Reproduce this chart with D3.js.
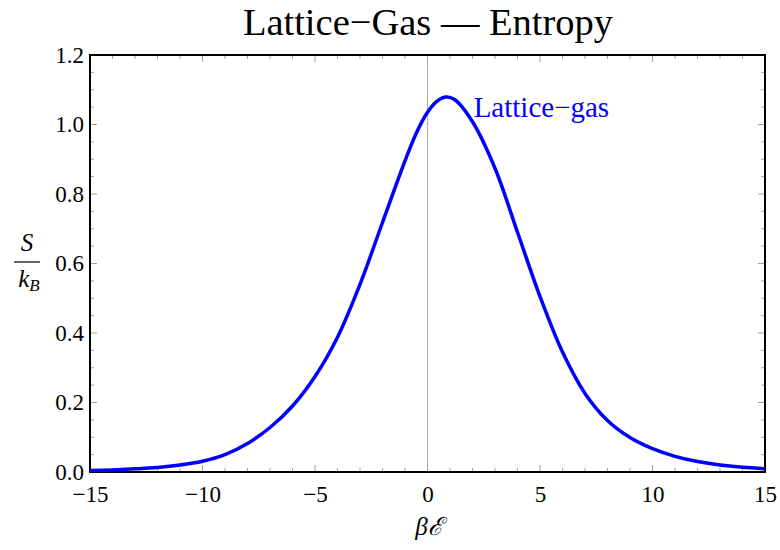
<!DOCTYPE html>
<html>
<head>
<meta charset="utf-8">
<script src="https://cdn.jsdelivr.net/npm/d3@7"></script>
<style>
  body { margin: 0; background: #fff; }
  svg text { font-family: "Liberation Serif", "Times New Roman", serif; }
</style>
</head>
<body>
<svg id="chart" width="780" height="550"></svg>
<script>
// values
let betaE = [-15, -14, -13, -12, -11, -10, -9, -8, -7, -6, -5, -4, -3, -2, -1, -0.5, 0, 0.4, 0.8, 1.2, 2, 3, 4, 5, 6, 7, 8, 9, 10, 11, 12, 13, 14, 15];
let entropy = [0.004, 0.006, 0.009, 0.013, 0.020, 0.031, 0.050, 0.082, 0.128, 0.190, 0.275, 0.388, 0.540, 0.718, 0.895, 0.975, 1.035, 1.066, 1.079, 1.072, 1.008, 0.874, 0.690, 0.505, 0.345, 0.226, 0.148, 0.099, 0.067, 0.045, 0.030, 0.020, 0.014, 0.009];
let xTicks = [-15, -10, -5, 0, 5, 10, 15];
let yTicks = [0.0, 0.2, 0.4, 0.6, 0.8, 1.0, 1.2];
let seriesName = "Lattice\u2212gas";
let title = "Lattice\u2212Gas \u2014 Entropy";

let svg = d3.select("#chart");
let margin = {left: 90, right: 15, top: 55, bottom: 78};
let width = 780 - margin.left - margin.right;
let height = 550 - margin.top - margin.bottom;

let x = d3.scaleLinear().domain([-15, 15]).range([0, width]);
let y = d3.scaleLinear().domain([0, 1.2]).range([height, 0]);

let g = svg.append("g").attr("transform", "translate(" + margin.left + "," + margin.top + ")");

// vertical axis line at x = 0
g.append("line")
    .attr("x1", x(0)).attr("x2", x(0))
    .attr("y1", 0).attr("y2", height)
    .attr("stroke", "#b0b0b0").attr("stroke-width", 1);

// minor / major ticks on all four sides (pointing inward)
let xMinor = d3.range(-15, 15.01, 1);
let yMinor = d3.range(0, 1.2001, 0.05);
let tickColor = "#a0a0a0";
xMinor.forEach(function(v) {
    let len = (Math.round(v) % 5 === 0) ? 7 : 4;
    g.append("line").attr("x1", x(v)).attr("x2", x(v)).attr("y1", height).attr("y2", height - len)
        .attr("stroke", tickColor).attr("stroke-width", 1);
    g.append("line").attr("x1", x(v)).attr("x2", x(v)).attr("y1", 0).attr("y2", len)
        .attr("stroke", tickColor).attr("stroke-width", 1);
});
yMinor.forEach(function(v) {
    let major = Math.abs(v * 5 - Math.round(v * 5)) < 1e-6;
    let len = major ? 7 : 4;
    g.append("line").attr("x1", 0).attr("x2", len).attr("y1", y(v)).attr("y2", y(v))
        .attr("stroke", tickColor).attr("stroke-width", 1);
    g.append("line").attr("x1", width).attr("x2", width - len).attr("y1", y(v)).attr("y2", y(v))
        .attr("stroke", tickColor).attr("stroke-width", 1);
});

// frame
g.append("rect")
    .attr("x", 0).attr("y", 0).attr("width", width).attr("height", height)
    .attr("fill", "none").attr("stroke", "#000").attr("stroke-width", 2);

// tick labels via d3 axes
let xAxis = d3.axisBottom(x).tickValues(xTicks).tickSize(0).tickPadding(14)
    .tickFormat(function(d) { return d < 0 ? "\u2212" + Math.abs(d) : d; });
let xg = g.append("g").attr("transform", "translate(0," + height + ")").call(xAxis);
xg.select(".domain").remove();
xg.selectAll("text").attr("font-size", 23).attr("fill", "#000");

let yAxis = d3.axisLeft(y).tickValues(yTicks).tickSize(0).tickPadding(6)
    .tickFormat(d3.format(".1f"));
let yg = g.append("g").call(yAxis);
yg.select(".domain").remove();
yg.selectAll("text").attr("font-size", 23).attr("fill", "#000");

// curve
let line = d3.line()
    .x(function(d, i) { return x(betaE[i]); })
    .y(function(d) { return y(d); })
    .curve(d3.curveCatmullRom.alpha(0.5));
g.append("path")
    .datum(entropy)
    .attr("d", line)
    .attr("fill", "none")
    .attr("stroke", "#0000ff")
    .attr("stroke-width", 3.5);

// series label
g.append("text")
    .attr("x", x(2.05)).attr("y", 62)
    .attr("fill", "#0000ff").attr("font-size", 29)
    .text(seriesName);

// title
svg.append("text")
    .attr("x", 428).attr("y", 35)
    .attr("text-anchor", "middle").attr("font-size", 38.5)
    .text(title);

// x label
svg.append("text")
    .attr("x", 429).attr("y", 535)
    .attr("text-anchor", "middle").attr("font-size", 25).attr("font-style", "italic")
    .text("\u03B2\u2130");

// y label as fraction S / k_B
let yl = svg.append("g").attr("transform", "translate(27,262)");
yl.append("text").attr("x", 0).attr("y", -11).attr("text-anchor", "middle")
    .attr("font-size", 25).attr("font-style", "italic").text("S");
yl.append("line").attr("x1", -13).attr("x2", 13).attr("y1", 0).attr("y2", 0)
    .attr("stroke", "#000").attr("stroke-width", 1.2);
let kb = yl.append("text").attr("x", 2).attr("y", 25).attr("text-anchor", "middle")
    .attr("font-size", 25).attr("font-style", "italic");
kb.append("tspan").text("k");
kb.append("tspan").attr("font-size", 17).attr("dy", 4).text("B");
</script>
</body>
</html>
